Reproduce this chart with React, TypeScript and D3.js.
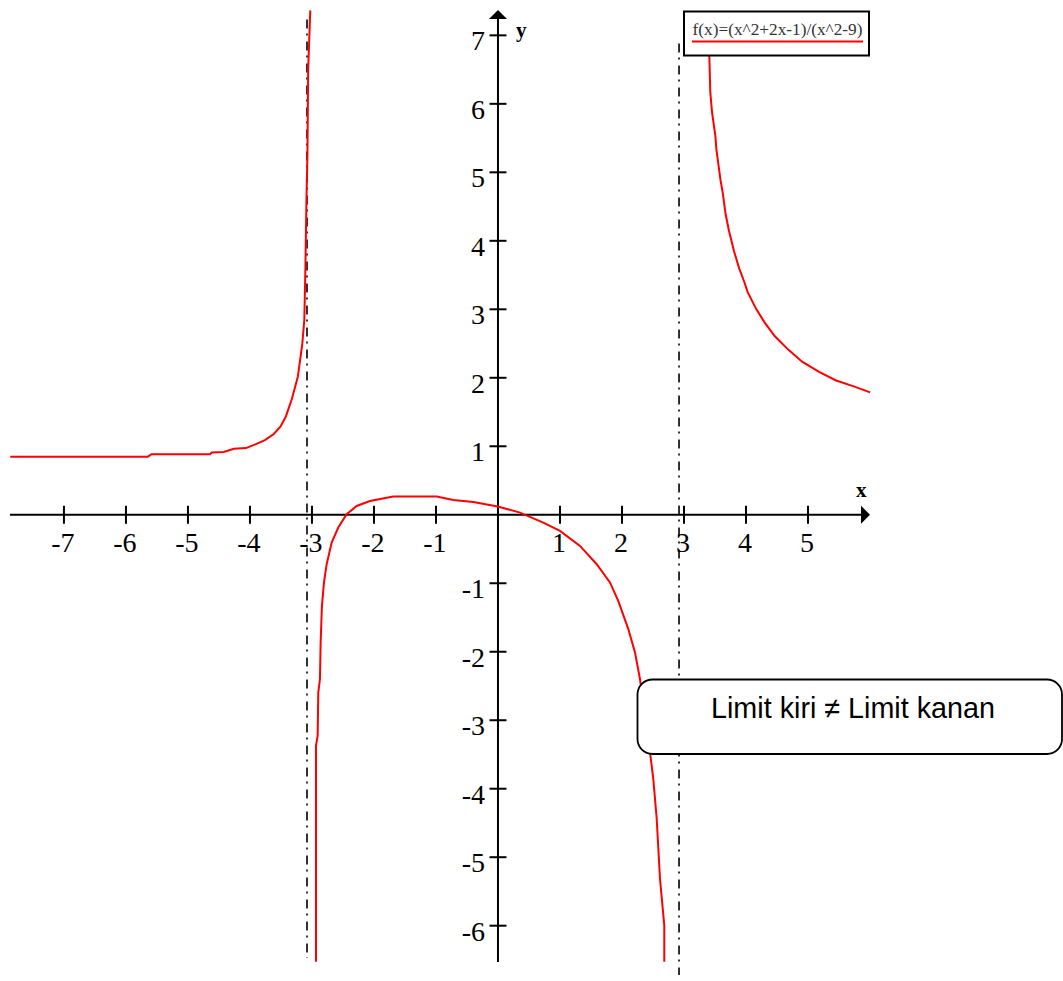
import * as d3 from "d3";

// values
const xTicks = [-7, -6, -5, -4, -3, -2, -1, 1, 2, 3, 4, 5];
const yTicks = [-6, -5, -4, -3, -2, -1, 1, 2, 3, 4, 5, 6, 7];

const xDomain: [number, number] = [-7.87, 6.0];
const yDomain: [number, number] = [-6.53, 7.37];

// branch left of the vertical asymptote
const leftBranch: [number, number][] = [
  [-7.866, 0.848], [-5.645, 0.848], [-5.589, 0.883], [-4.645, 0.883],
  [-4.616, 0.908], [-4.423, 0.918], [-4.258, 0.964], [-4.065, 0.974],
  [-3.923, 1.025], [-3.758, 1.089], [-3.616, 1.179], [-3.506, 1.29],
  [-3.423, 1.43], [-3.323, 1.693], [-3.227, 2.019], [-3.156, 2.494],
  [-3.123, 2.847], [-3.106, 3.599], [-3.089, 4.603], [-3.073, 5.255],
  [-3.061, 6.51], [-3.027, 7.364],
];

// branch between the asymptotes
const middleBranch: [number, number][] = [
  [-2.935, -6.528], [-2.935, -3.37], [-2.908, -3.224], [-2.898, -2.592],
  [-2.871, -2.398], [-2.86, -1.863], [-2.839, -1.329], [-2.806, -0.988],
  [-2.763, -0.722], [-2.682, -0.405], [-2.576, -0.187], [-2.44, 0.007],
  [-2.279, 0.128], [-2.065, 0.201], [-1.689, 0.265], [-0.989, 0.265],
  [-0.721, 0.216], [-0.398, 0.187], [-0.005, 0.12], [0.355, 0.032],
  [0.731, -0.114], [1.0, -0.236], [1.323, -0.455], [1.592, -0.722],
  [1.806, -0.988], [1.94, -1.257], [2.102, -1.669], [2.21, -2.009],
  [2.29, -2.398], [2.37, -2.93], [2.452, -3.466], [2.505, -3.856],
  [2.56, -4.439], [2.613, -5.314], [2.682, -5.994], [2.682, -6.528],
];

// branch right of the vertical asymptote
const rightBranch: [number, number][] = [
  [3.39, 7.3], [3.408, 6.722], [3.424, 6.176], [3.452, 5.879], [3.506, 5.532],
  [3.523, 5.332], [3.589, 4.886], [3.627, 4.688], [3.671, 4.391],
  [3.726, 4.143], [3.808, 3.845], [3.89, 3.598], [3.973, 3.399],
  [4.027, 3.251], [4.165, 3.003], [4.302, 2.805], [4.466, 2.606],
  [4.685, 2.408], [4.905, 2.235], [5.179, 2.086], [5.453, 1.961],
  [5.727, 1.878], [6.002, 1.787],
];

const asymptoteX = [-3.08, 2.92];
const asymptoteTop = [7.23, 6.88];
const asymptoteBottom = [-6.47, -6.72];

const legendLabel = "f(x)=(x^2+2x-1)/(x^2-9)";
const noteLabel = "Limit kiri \u2260 Limit kanan";

const W = 1063;
const H = 981;
const serif = "'Liberation Serif', 'Times New Roman', serif";

export default function App() {
  const x = d3.scaleLinear().domain(xDomain).range([10, 870]);
  const y = d3.scaleLinear().domain(yDomain).range([962, 10]);

  const line = d3
    .line<[number, number]>()
    .x((d) => x(d[0]))
    .y((d) => y(d[1]))
    .curve(d3.curveLinear);

  const x0 = x(0);
  const y0 = y(0);
  const xEnd = x(xDomain[1]);
  const yTop = y(yDomain[1]);

  return (
    <svg
      width={W}
      height={H}
      style={{ position: "absolute", left: 0, top: 0, background: "#fff" }}
    >
      <rect width={W} height={H} fill="#fff" />

      {/* asymptotes */}
      {asymptoteX.map((a, i) => (
        <line
          key={"as" + i}
          x1={x(a)}
          x2={x(a)}
          y1={y(asymptoteTop[i])}
          y2={y(asymptoteBottom[i])}
          stroke="#000"
          strokeWidth={1.6}
          strokeDasharray="9 5 2 6"
        />
      ))}

      {/* axes */}
      <g stroke="#000" strokeWidth={2}>
        <line x1={x(xDomain[0])} x2={xEnd - 8} y1={y0} y2={y0} />
        <line x1={x0} x2={x0} y1={y(yDomain[0])} y2={yTop + 8} />
        {xTicks.map((t) => (
          <line key={"xt" + t} x1={x(t)} x2={x(t)} y1={y0 - 9} y2={y0 + 9} />
        ))}
        {yTicks.map((t) => (
          <line key={"yt" + t} x1={x0 - 8.5} x2={x0 + 8.5} y1={y(t)} y2={y(t)} />
        ))}
      </g>
      <path
        d={`M${xEnd},${y0} L${xEnd - 9},${y0 - 9} L${xEnd - 9},${y0 + 9} Z`}
        fill="#000"
      />
      <path
        d={`M${x0},${yTop} L${x0 - 9},${yTop + 9} L${x0 + 9},${yTop + 9} Z`}
        fill="#000"
      />

      {/* tick labels */}
      <g fontFamily={serif} fontSize={28} fill="#000">
        {xTicks.map((t) => (
          <text key={"xl" + t} x={x(t) - 1} y={y0 + 37} textAnchor="middle">
            {t}
          </text>
        ))}
        {yTicks.map((t) => (
          <text key={"yl" + t} x={x0 - 13} y={y(t) + 15} textAnchor="end">
            {t}
          </text>
        ))}
      </g>
      <text x={x0 + 18} y={yTop + 27} fontFamily={serif} fontSize={21} fontWeight="bold">
        y
      </text>
      <text x={xEnd - 14} y={y0 - 18} fontFamily={serif} fontSize={21} fontWeight="bold">
        x
      </text>

      {/* curve */}
      <g fill="none" stroke="#ff0000" strokeWidth={2}>
        <path d={line(leftBranch) ?? ""} />
        <path d={line(middleBranch) ?? ""} />
        <path d={line(rightBranch) ?? ""} />
      </g>

      {/* legend */}
      <rect x={684} y={11.5} width={185} height={44} fill="#fff" stroke="#000" strokeWidth={2} />
      <text
        x={692.5}
        y={35}
        fontFamily={serif}
        fontSize={16.5}
        fill="#333"
        textLength={170}
        lengthAdjust="spacingAndGlyphs"
      >
        {legendLabel}
      </text>
      <line x1={692} x2={863} y1={41.5} y2={41.5} stroke="#ff0000" strokeWidth={2} />

      {/* annotation */}
      <rect
        x={637.5}
        y={679.5}
        width={424.5}
        height={74.5}
        rx={15}
        ry={15}
        fill="#fff"
        stroke="#000"
        strokeWidth={1.8}
      />
      <text
        x={711}
        y={718}
        fontFamily="'Liberation Sans', Arial, sans-serif"
        fontSize={29}
        fill="#000"
        textLength={284}
        lengthAdjust="spacingAndGlyphs"
      >
        {noteLabel}
      </text>
    </svg>
  );
}
